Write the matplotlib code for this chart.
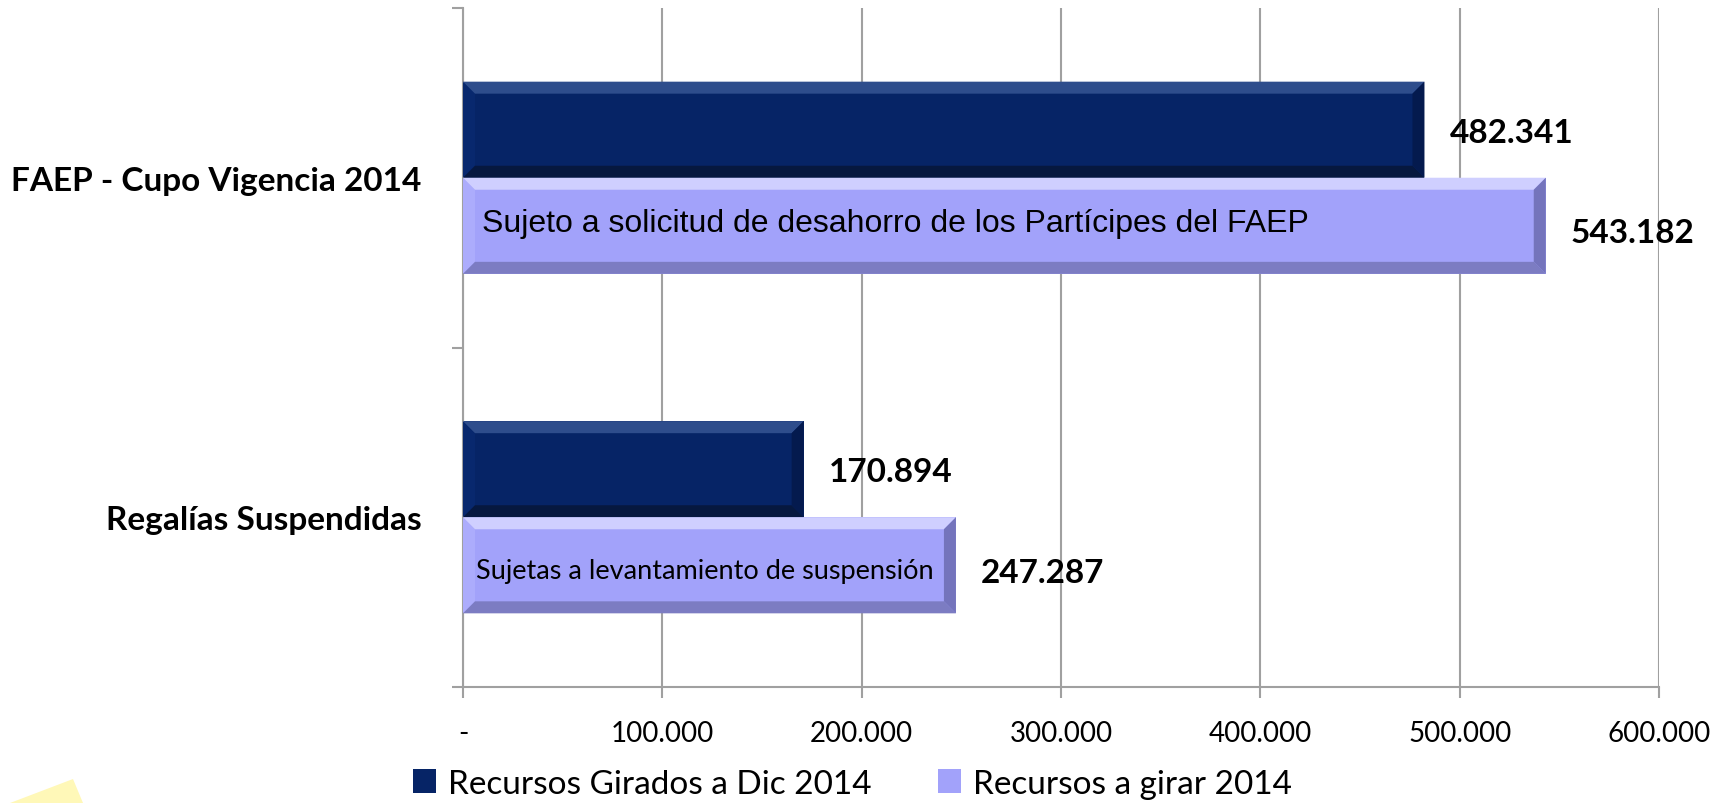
import matplotlib.pyplot as plt
import numpy as np
from matplotlib.patches import Polygon
from matplotlib.ticker import FuncFormatter

# Data
categories = ['FAEP - Cupo Vigencia 2014', 'Regalías Suspendidas']
girados = [482341, 170894]
a_girar = [543182, 247287]
series_names = ['Recursos Girados a Dic 2014', 'Recursos a girar 2014']
bar_notes = ['Sujeto a solicitud de desahorro de los Partícipes del FAEP',
             'Sujetas a levantamiento de suspensión']
x_ticks = [0, 100000, 200000, 300000, 400000, 500000, 600000]

dark = '#062466'
light = '#A2A2FA'
dark_bevel = {'top': '#2E4D8C', 'bottom': '#06183F', 'right': '#041A4E', 'left': '#08286E'}
light_bevel = {'top': '#CFCFFF', 'bottom': '#7C7CC2', 'right': '#7474BC', 'left': '#ACACFC'}


def fmt(v):
    return f'{int(v):,}'.replace(',', '.')


def add_bevel(ax, rect, cols, b=12):
    x0, y0 = rect.get_x(), rect.get_y()
    x1, y1 = x0 + rect.get_width(), y0 + rect.get_height()
    (ax0, ay0), (ax1, ay1) = ax.transData.transform([(x0, y0), (x1, y1)])
    l, r = min(ax0, ax1), max(ax0, ax1)
    t, bt = max(ay0, ay1), min(ay0, ay1)
    inv = ax.transData.inverted()
    polys = {
        'left': [(l, bt), (l, t), (l + b, t - b), (l + b, bt + b)],
        'top': [(l, t), (r, t), (r - b, t - b), (l + b, t - b)],
        'bottom': [(l, bt), (r, bt), (r - b, bt + b), (l + b, bt + b)],
        'right': [(r, t), (r, bt), (r - b, bt + b), (r - b, t - b)],
    }
    for side, pts in polys.items():
        ax.add_patch(Polygon(inv.transform(pts), closed=True, facecolor=cols[side],
                             edgecolor='none', zorder=3))


fig = plt.figure(figsize=(17.29, 8.04), dpi=100)
ax = fig.add_axes([463 / 1729, 116 / 804, 1196 / 1729, 679 / 804])

y = np.arange(len(categories))
h = 0.283
ax.set_xlim(0, 600000)
ax.set_ylim(len(categories) - 0.5, -0.5)

bars1 = ax.barh(y - h / 2, girados, height=h, color=dark, zorder=2, label=series_names[0])
bars2 = ax.barh(y + h / 2, a_girar, height=h, color=light, zorder=2, label=series_names[1])

for rect in bars1:
    add_bevel(ax, rect, dark_bevel)
for rect in bars2:
    add_bevel(ax, rect, light_bevel)

# value labels
for yy, v in zip(y - h / 2, girados):
    ax.annotate(fmt(v), xy=(v, yy), xytext=(18, -2), textcoords='offset points',
                ha='left', va='center', fontsize=24, fontweight='bold', family='Lato')
for yy, v in zip(y + h / 2, a_girar):
    ax.annotate(fmt(v), xy=(v, yy), xytext=(18, -5), textcoords='offset points',
                ha='left', va='center', fontsize=24, fontweight='bold', family='Lato')

# notes inside the light bars
ax.annotate(bar_notes[0], xy=(0, y[0] + h / 2), xytext=(14, 2), textcoords='offset points',
            ha='left', va='center', fontsize=23, family='Liberation Sans', zorder=5)
ax.annotate(bar_notes[1], xy=(0, y[1] + h / 2), xytext=(9, -4), textcoords='offset points',
            ha='left', va='center', fontsize=19.5, family='Lato', zorder=5)

# axes styling
ax.set_xticks(x_ticks)
ax.xaxis.set_major_formatter(FuncFormatter(lambda v, p: '-' if v == 0 else fmt(v)))
ax.tick_params(axis='x', length=8, width=1.5, color='#A0A0A0', pad=16, labelsize=20)
for lab in ax.get_xticklabels():
    lab.set_family('Lato')
ax.grid(axis='x', color='#A0A0A0', linewidth=1.5, zorder=0)
ax.set_axisbelow(True)

ax.set_yticks(y)
ax.set_yticklabels(categories, fontsize=24, fontweight='bold', family='Lato')
ax.set_yticks(np.arange(len(categories) + 1) - 0.5, minor=True)
ax.tick_params(axis='y', which='major', length=0, pad=30)
ax.tick_params(axis='y', which='minor', length=8, width=1.5, color='#A0A0A0')

for s in ['top', 'right']:
    ax.spines[s].set_visible(False)
for s in ['left', 'bottom']:
    ax.spines[s].set_color('#A0A0A0')
    ax.spines[s].set_linewidth(1.5)

# legend
leg = fig.legend(loc='center', bbox_to_anchor=(0.493, 0.024), ncol=2, frameon=False,
                 prop={'family': 'Lato', 'size': 24}, handlelength=0.7, handleheight=0.7,
                 handletextpad=0.35, columnspacing=2.0)

# pale yellow decoration bottom-left
fig.patches.append(Polygon([(10 / 1729, 0), (73 / 1729, 24 / 804), (83 / 1729, 0)],
                           closed=True, transform=fig.transFigure, facecolor='#FFF8B8',
                           edgecolor='none'))

fig.savefig('out.png', dpi=100)
